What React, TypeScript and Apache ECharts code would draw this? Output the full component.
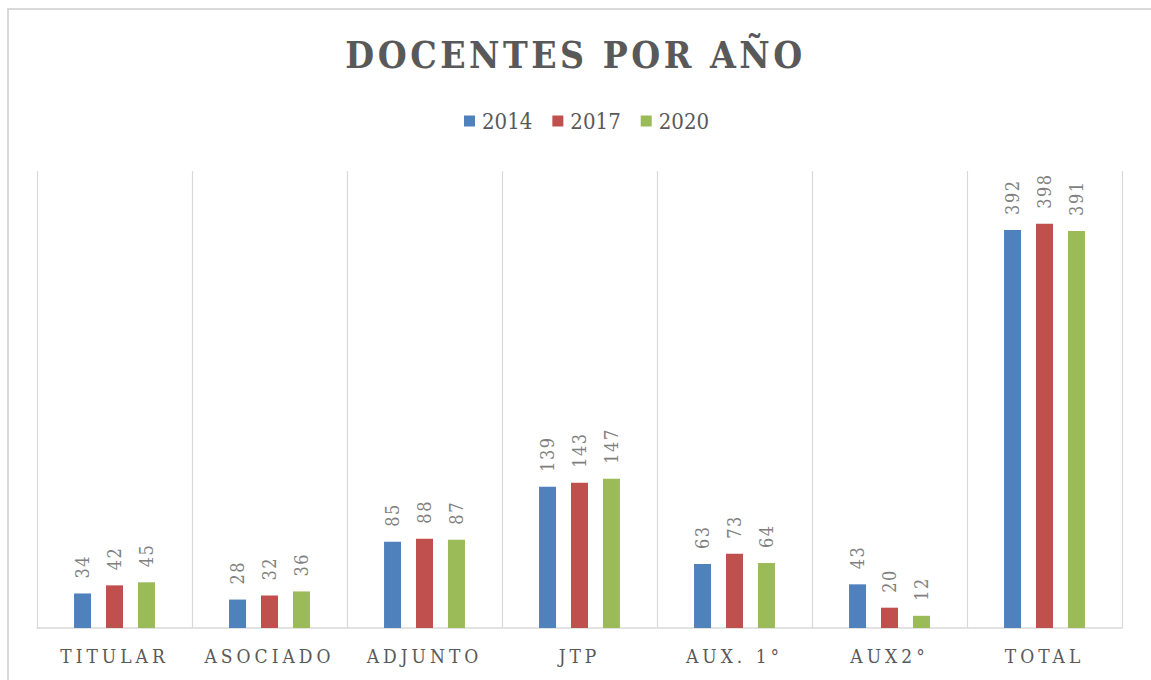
import React, { useEffect, useRef } from "react";
import * as echarts from "echarts";

const categories = ["TITULAR", "ASOCIADO", "ADJUNTO", "JTP", "AUX. 1°", "AUX2°", "TOTAL"];
const years = ["2014", "2017", "2020"];
const values2014 = [34, 28, 85, 139, 63, 43, 392];
const values2017 = [42, 32, 88, 143, 73, 20, 398];
const values2020 = [45, 36, 87, 147, 64, 12, 391];
const colors = ["#4F81BD", "#C0504D", "#9BBB59"];
const titleText = "DOCENTES POR AÑO";

const FONT = "'DejaVu Serif Condensed', 'DejaVu Serif', serif";

export default function App() {
  const ref = useRef<HTMLDivElement>(null);
  useEffect(() => {
    if (!ref.current) return;
    const chart = echarts.init(ref.current, null, { renderer: "svg" });
    const seriesData = [values2014, values2017, values2020];
    chart.setOption({
      animation: false,
      backgroundColor: "#ffffff",
      title: {
        text: titleText,
        left: "center",
        top: 31,
        textStyle: {
          fontFamily: FONT,
          fontSize: 37,
          fontWeight: "bold",
          color: "#595959",
        },
      },
      legend: {
        data: years,
        left: 459,
        top: 105,
        itemWidth: 11,
        itemHeight: 11,
        itemGap: 20,
        icon: "rect",
        textStyle: {
          fontFamily: FONT,
          fontSize: 22,
          color: "#595959",
          padding: [0, 0, 0, 2],
        },
      },
      graphic: [
        {
          type: "rect",
          shape: { x: 8, y: 9, width: 1300, height: 800 },
          style: { fill: "none", stroke: "#d9d9d9", lineWidth: 2 },
          silent: true,
        },
      ],
      grid: { left: 37, right: 29, top: 171, bottom: 52 },
      xAxis: {
        type: "category",
        data: categories,
        axisTick: { show: false },
        axisLine: { lineStyle: { color: "#d9d9d9", width: 1.5 } },
        splitLine: { show: true, lineStyle: { color: "#d9d9d9", width: 1.2 } },
        axisLabel: {
          fontFamily: FONT,
          fontSize: 19,
          color: "#595959",
          margin: 18,
          interval: 0,
        },
      },
      yAxis: {
        type: "value",
        min: 0,
        max: 450,
        interval: 50,
        show: false,
        splitLine: { show: false },
      },
      series: years.map((y, i) => ({
        name: y,
        type: "bar",
        data: seriesData[i],
        barWidth: 17,
        barGap: "88%",
        itemStyle: { color: colors[i] },
        label: {
          show: true,
          position: "top",
          rotate: 90,
          align: "left",
          verticalAlign: "middle",
          distance: 15,
          fontFamily: FONT,
          fontSize: 18,
          color: "#7f7f7f",
        },
      })),
    });

    const spaced = new Set<string>([titleText, ...categories]);
    const applySpacing = () => {
      const el = ref.current;
      if (!el) return;
      el.querySelectorAll("text").forEach((t) => {
        const s = (t.textContent || "").trim();
        if (s === titleText) t.setAttribute("letter-spacing", "3.5");
        else if (spaced.has(s)) t.setAttribute("letter-spacing", "4");
        else if (/^\d+$/.test(s) && !years.includes(s)) t.setAttribute("letter-spacing", "1.5");
      });
    };
    chart.on("finished", applySpacing);
    chart.on("rendered", applySpacing);
    const timers = [0, 50, 200].map((d) => setTimeout(applySpacing, d));
    return () => {
      timers.forEach((t) => clearTimeout(t));
      chart.dispose();
    };
  }, []);
  return (
    <div
      ref={ref}
      style={{ position: "absolute", left: 0, top: 0, width: 1151, height: 680 }}
    />
  );
}
